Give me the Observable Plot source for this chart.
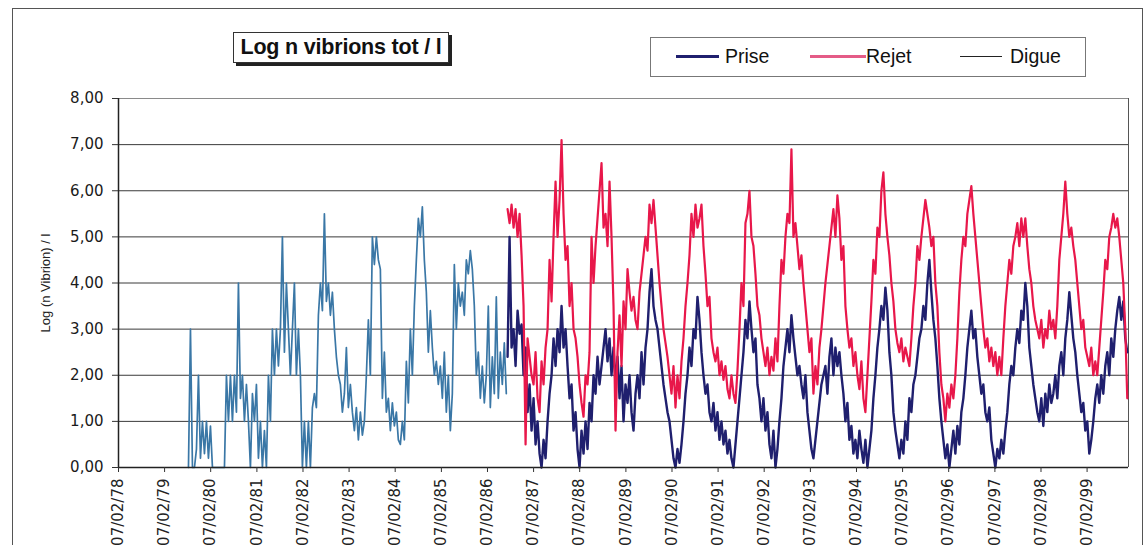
<!DOCTYPE html>
<html><head><meta charset="utf-8">
<script src="https://cdn.jsdelivr.net/npm/d3@7"></script>
<script src="https://cdn.jsdelivr.net/npm/@observablehq/plot@0.6"></script>
<style>
body{margin:0;background:#fff;font-family:"Liberation Sans",Arial,sans-serif;color:#111;}
#wrap{position:relative;width:1146px;height:545px;overflow:hidden;background:#fff;}
#chart{position:absolute;left:0;top:0;}
.ov{position:absolute;}
</style></head><body>
<div id="wrap">
<div id="chart"></div>
<div class="ov" style="left:12px;top:8px;width:1129px;height:620px;border:1px solid #555;border-bottom:none;"></div>
<div class="ov" id="title" style="left:233px;top:32px;width:214px;height:29px;border:1px solid #333;box-shadow:3px 3px 0 #222;background:#fff;font-weight:bold;font-size:21.5px;line-height:29px;text-align:center;white-space:nowrap;letter-spacing:-0.2px;"></div>
<div class="ov" id="legend" style="left:650px;top:37px;width:434px;height:38px;border:1px solid #777;background:#fff;"></div>
</div>
<script>
const titleText = "Log n vibrions tot / l";
const yLabel = "Log (n Vibrion) / l";
const series = ["Prise", "Rejet", "Digue"];
const colors = {Prise: "#1f1f6e", Rejet: "#e8174a", Digue: "#3a77a6"};
const tickLabels = ["07/02/78","07/02/79","07/02/80","07/02/81","07/02/82","07/02/83","07/02/84","07/02/85","07/02/86","07/02/87","07/02/88","07/02/89","07/02/90","07/02/91","07/02/92","07/02/93","07/02/94","07/02/95","07/02/96","07/02/97","07/02/98","07/02/99"];
const yTicks = [0,1,2,3,4,5,6,7,8];
const stepDays = 15.83;
const digueStart = "1979-08-15";
const mainStart = "1986-07-16";

const digue = [0,3.0,0,0,0.4,2.0,0.2,1.0,0.3,1.0,0.2,0.9,
0,0,0,0,0,0,0,
2.0,1.0,2.0,1.0,2.0,1.2,4.0,1.5,2.0,1.0,1.8,1.0,0,1.6,1.0,1.8,
0.2,1.0,0,0.8,0,
2.0,1.0,3.0,2.0,3.0,2.2,3.0,5.0,2.5,4.0,3.0,2.0,3.0,4.0,2.0,3.0,2.0,
0,1.0,0,1.0,0,
1.3,1.6,1.3,3.3,4.0,3.4,5.5,3.6,4.0,3.3,3.8,3.0,2.4,2.0,1.8,1.2,1.6,2.6,1.3,1.8,1.2,0.8,1.3,0.6,1.2,0.7,1.0,2.0,
3.2,2.0,5.0,4.4,5.0,4.5,4.3,1.5,2.5,1.2,1.5,0.8,1.4,0.9,1.2,0.6,0.5,1.0,0.6,2.3,1.4,3.0,2.0,3.5,4.5,5.4,5.0,5.65,4.5,3.8,2.5,3.4,2.6,2.0,2.3,1.8,2.2,1.5,2.5,1.2,2.0,0.8,1.6,
4.4,3.0,4.0,3.5,3.8,3.3,4.5,4.2,4.7,4.3,3.5,2.0,2.5,1.5,2.2,1.4,2.0,3.5,1.3,2.4,1.6,3.7,1.5,2.5,1.8,2.7,1.6];

const rejet = [5.6,5.3,5.7,5.2,5.6,5.0,5.5,4.6,3.5,0.5,
2.8,2.4,2.0,1.8,2.5,1.5,1.2,2.3,1.8,2.6,
3.0,4.5,3.6,5.0,6.2,5.0,5.8,7.1,5.5,4.5,
4.8,3.5,4.0,3.0,2.8,2.4,1.8,1.4,1.1,2.0,
1.8,2.5,5.0,4.0,4.8,5.4,6.0,6.6,5.2,5.5,
4.8,6.2,5.0,3.5,0.8,2.5,3.3,2.2,3.6,3.0,
4.3,3.8,3.4,3.7,3.2,3.0,3.8,4.2,4.6,5.0,
4.7,5.7,5.3,5.8,5.2,4.6,4.0,3.5,3.0,2.7,
2.4,2.0,1.6,2.2,1.3,2.0,1.5,2.3,2.8,3.5,
4.0,4.6,5.5,5.0,5.7,5.2,5.4,5.7,4.8,4.2,
3.5,3.7,2.8,2.5,2.3,2.6,2.0,2.3,1.9,2.2,
1.7,1.5,2.0,1.6,1.4,2.1,3.0,4.0,3.5,5.3,
5.5,6.0,5.0,4.8,4.2,3.5,3.3,2.8,2.5,2.2,
2.6,2.0,2.4,2.1,2.8,2.3,3.5,4.5,4.2,5.0,
5.5,5.3,6.9,5.0,5.3,4.8,4.3,4.6,4.0,3.5,
3.0,2.5,2.8,1.6,2.2,1.8,2.6,3.0,3.5,4.0,
4.4,4.8,5.2,5.6,5.0,5.9,5.4,4.5,4.8,3.5,
3.0,2.6,2.8,2.2,2.5,2.0,1.7,2.3,1.5,1.2,
2.0,2.8,3.6,4.5,4.2,5.2,5.0,6.0,6.4,5.5,
5.0,4.6,4.0,3.6,3.0,2.7,2.5,2.8,2.3,2.6,
2.4,2.2,2.8,3.5,4.0,4.8,4.5,5.0,5.4,5.8,
5.5,5.2,4.8,5.0,4.0,3.5,2.5,1.8,1.5,1.0,
1.6,1.3,1.8,1.5,2.0,2.8,3.8,4.5,5.0,4.8,
5.5,5.8,6.1,5.5,5.0,4.5,4.0,3.5,3.0,2.6,
2.8,2.3,2.6,2.2,2.5,2.0,2.4,2.0,2.8,3.5,
4.0,4.5,4.2,4.8,5.0,5.3,4.8,5.4,5.0,5.4,
4.8,4.3,4.0,3.5,3.2,3.0,2.8,3.2,2.6,3.0,
2.8,3.4,3.0,3.2,2.8,3.5,4.5,5.0,5.5,6.2,
5.5,5.0,5.2,4.8,4.5,4.0,3.5,3.0,3.2,2.6,
2.4,2.2,2.6,2.0,2.3,2.0,2.6,3.2,3.8,4.5,
4.3,5.0,5.2,5.5,5.2,5.4,5.0,4.5,4.0,3.0,
1.5];

const prise = [2.4,5.0,2.6,3.0,2.2,3.4,2.9,3.1,2.0,2.6,
1.2,1.8,0.8,1.5,0.5,1.0,0.3,0.0,0.6,0.2,
1.0,1.6,2.0,2.8,2.2,3.0,2.5,3.5,2.6,3.0,
2.2,1.5,1.8,0.8,1.2,0.4,0.0,0.8,0.3,1.0,
0.4,1.4,1.0,2.0,1.6,2.4,1.8,2.2,2.6,3.0,
2.3,2.8,2.0,2.6,1.8,2.4,1.5,2.2,1.0,1.8,
1.4,2.0,1.2,0.8,1.6,2.0,1.5,2.5,1.8,2.6,
3.0,3.8,4.3,3.5,3.2,3.0,2.6,2.2,1.8,1.5,
1.2,1.0,0.6,0.2,0.0,0.4,0.1,0.5,1.0,1.6,
2.0,2.6,2.2,3.0,2.8,3.7,3.2,2.5,2.0,1.6,
1.8,1.2,1.0,1.4,0.8,1.2,0.6,1.0,0.5,0.8,
0.3,0.6,0.2,0.0,0.5,1.0,1.5,2.0,2.5,3.2,
2.8,3.6,3.0,2.5,2.8,1.8,1.5,1.0,1.5,0.8,
1.2,0.5,0.2,0.8,0.0,0.4,1.0,1.5,2.2,2.6,
3.0,2.5,3.3,2.8,2.4,2.0,2.2,1.8,1.5,2.0,
1.2,0.8,0.4,0.2,0.6,1.0,1.4,1.8,2.0,2.2,
1.6,2.4,2.8,2.0,2.6,2.2,2.5,2.0,1.6,1.0,
1.4,0.6,0.9,0.3,0.6,0.2,0.8,0.4,0.1,0.6,
0.0,0.4,0.8,1.5,2.0,2.6,3.0,3.5,3.2,3.9,
3.4,2.5,2.0,1.2,0.8,0.5,0.2,0.6,0.3,1.0,
0.6,1.5,1.2,1.8,2.0,2.4,2.8,3.0,3.5,3.2,
4.0,4.5,3.8,3.2,2.8,2.2,1.5,1.0,0.6,0.2,
0.5,0.0,0.4,0.8,0.3,0.9,0.5,1.2,1.5,2.0,
2.6,3.0,3.4,2.8,3.0,2.4,2.0,1.6,1.8,1.2,
1.0,1.3,0.6,0.3,0.0,0.4,0.2,0.6,0.3,0.8,
1.2,1.8,2.2,2.0,2.6,3.0,2.7,3.4,3.2,4.0,
3.5,2.6,2.2,1.8,1.5,1.2,1.0,1.5,0.9,1.6,
1.2,1.8,1.4,1.6,2.0,1.5,2.2,2.5,2.0,2.8,
3.2,3.8,3.3,2.8,2.5,2.0,1.6,1.2,1.4,0.8,
1.0,0.3,0.6,1.0,1.5,1.8,1.4,2.0,1.6,2.2,
2.5,2.0,2.8,2.4,3.0,3.4,3.7,3.2,3.6,2.8,
2.5];

const parseISO = d3.timeParse("%Y-%m-%d");
const parseTick = d3.timeParse("%d/%m/%y");
const tickDates = tickLabels.map(parseTick);
function rows(values, start, name) {
  const t0 = parseISO(start).getTime();
  return values.map((v, i) => ({date: new Date(t0 + i * stepDays * 864e5), v, series: name}));
}
const dPrise = rows(prise, mainStart, "Prise");
const dRejet = rows(rejet, mainStart, "Rejet");
const dDigue = rows(digue, digueStart, "Digue");
const x0 = new Date(1978, 1, 7), x1 = new Date(2000, 0, 1);
const font = '"Liberation Sans", Arial, sans-serif';
const tickFont = '"DejaVu Sans", Verdana, sans-serif';

const chart = Plot.plot({
  width: 1146, height: 545,
  marginLeft: 118, marginRight: 18, marginTop: 98, marginBottom: 78,
  style: {fontFamily: font, background: "transparent", color: "#111", overflow: "visible"},
  x: {type: "time", domain: [x0, x1]},
  y: {domain: [0, 8]},
  marks: [
    Plot.gridY(yTicks.slice(1, 8), {stroke: "#3a3a3a", strokeOpacity: 1, strokeWidth: 1}),
    Plot.ruleY([8], {stroke: "#8a8a8a", strokeWidth: 1.2}),
    Plot.ruleX([x1], {stroke: "#555", strokeWidth: 1}),
    Plot.line(dPrise, {x: "date", y: "v", stroke: colors.Prise, strokeWidth: 2.4}),
    Plot.line(dRejet, {x: "date", y: "v", stroke: colors.Rejet, strokeWidth: 2.2}),
    Plot.line(dDigue, {x: "date", y: "v", stroke: colors.Digue, strokeWidth: 1.7}),
    Plot.ruleY([0], {stroke: "#222", strokeWidth: 1.5}),
    Plot.ruleX([x0], {stroke: "#222", strokeWidth: 1.5}),
    Plot.axisY({ticks: yTicks, tickFormat: d => d.toFixed(2).replace(".", ","), fontSize: 15, fontFamily: tickFont, tickSize: 6, tickPadding: 9, label: null, stroke: "#333", fill: "#1a1a1a"}),
    Plot.axisX({ticks: tickDates, tickFormat: () => "", tickSize: 5, label: null, stroke: "#333"}),
    Plot.text(tickDates, {x: d => d, frameAnchor: "bottom", dy: 11, rotate: -90, textAnchor: "end", lineAnchor: "middle", text: (d, i) => tickLabels[i], fontSize: 15, fontFamily: tickFont, fill: "#222"}),
    Plot.text([yLabel], {frameAnchor: "left", dx: -73, rotate: -90, textAnchor: "middle", fontSize: 13, fill: "#222"})
  ]
});
document.getElementById("chart").appendChild(chart);
document.getElementById("title").textContent = titleText;

const legend = document.getElementById("legend");
const legendItems = [
  {name: "Prise", lineLeft: 25, lineW: 43, lineH: 3, color: colors.Prise, textLeft: 74},
  {name: "Rejet", lineLeft: 159, lineW: 56, lineH: 3, color: "#e45b87", textLeft: 215},
  {name: "Digue", lineLeft: 309, lineW: 42, lineH: 1, color: "#222", textLeft: 359}
];
legendItems.forEach(it => {
  const l = document.createElement("div");
  l.style.cssText = `position:absolute;left:${it.lineLeft}px;top:${18 - it.lineH/2}px;width:${it.lineW}px;height:${it.lineH}px;background:${it.color};`;
  legend.appendChild(l);
  const t = document.createElement("div");
  t.textContent = it.name;
  t.style.cssText = `position:absolute;left:${it.textLeft}px;top:6px;font-size:19.5px;line-height:24px;color:#111;`;
  legend.appendChild(t);
});
</script>
</body></html>
